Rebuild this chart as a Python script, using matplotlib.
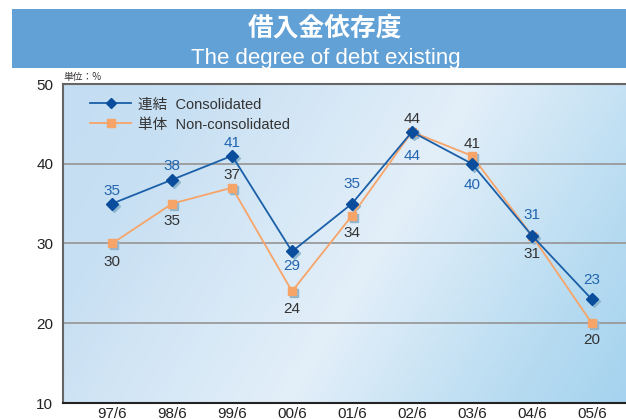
import numpy as np
import matplotlib
matplotlib.use("Agg")
import matplotlib.pyplot as plt
from matplotlib.patches import Rectangle
from matplotlib.colors import LinearSegmentedColormap
from matplotlib.transforms import offset_copy
from matplotlib.lines import Line2D

plt.rcParams['font.family'] = ['Liberation Sans', 'Noto Sans CJK JP', 'DejaVu Sans']

# ---- data ----
categories = ["97/6", "98/6", "99/6", "00/6", "01/6", "02/6", "03/6", "04/6", "05/6"]
consolidated = [35, 38, 41, 29, 35, 44, 40, 31, 23]
non_consolidated = [30, 35, 37, 24, 33.5, 44, 41, 31, 20]
consolidated_labels = ["35", "38", "41", "29", "35", "44", "40", "31", "23"]
non_consolidated_labels = ["30", "35", "37", "24", "34", "44", "41", "31", "20"]
yticks = [10, 20, 30, 40, 50]

# label offsets (pixels) for each point
cons_off = [13, 14, 13, -15, 20, -24, -21, 21, 19]
noncons_off = [-18, -17, 13, -18, -17, 13, 12, -18, -17]

W, H = 626, 419
fig = plt.figure(figsize=(W / 100, H / 100), dpi=100)

# header band
fig.patches.append(Rectangle((12 / W, 1 - 68 / H), 1 - 12 / W, 59 / H,
                             transform=fig.transFigure, facecolor="#62a1d6",
                             edgecolor="none", zorder=0))
fig.text(325 / W, 1 - 28 / H, "借入金依存度", color="white", fontsize=18.5,
         fontweight="bold", ha="center", va="center",
         family=['Noto Sans CJK JP', 'DejaVu Sans'])
fig.text(326 / W, 1 - 64 / H, "The degree of debt existing", color="white",
         fontsize=16, ha="center", va="baseline", family=['Liberation Sans'])

ax_left, ax_bottom = 63 / W, 1 - 403 / H
ax = fig.add_axes([ax_left, ax_bottom, 1 - ax_left, (403 - 84) / H])

x = np.arange(len(categories))
ax.set_xlim(-0.82, 8.57)
ax.set_ylim(10, 50)

# gradient background
gw, gh = 400, 200
px = np.linspace(63, 626, gw)
py = np.linspace(0, 319, gh)  # from bottom upward
PX, PY = np.meshgrid(px, py)
U = PX - 0.6 * PY
cmap = LinearSegmentedColormap.from_list("bg", [
    (0.0, "#c4ddf2"), (0.18, "#c8e0f3"), (0.55, "#e3eff9"), (0.85, "#b6dbf1"), (1.0, "#a6d3ef")])
norm_u = (U + 128) / (626 + 128)
ax.imshow(norm_u, cmap=cmap, vmin=0, vmax=1, extent=(-0.82, 8.57, 10, 50),
          origin="lower", aspect="auto", zorder=0, interpolation="bilinear")

# grid
for yv in [20, 30, 40]:
    ax.axhline(yv, color="#9a9a9a", lw=1.3, zorder=1)

for s in ["left", "top"]:
    ax.spines[s].set_color("#666666")
    ax.spines[s].set_linewidth(1.5)
ax.spines["bottom"].set_color("#222222")
ax.spines["bottom"].set_linewidth(1.5)
ax.spines["right"].set_visible(False)

ax.set_yticks(yticks)
ax.set_yticklabels([str(v) for v in yticks])
ax.set_xticks(x)
ax.set_xticklabels(categories)
ax.tick_params(length=0, labelsize=11, colors="#222222")
ax.tick_params(axis="y", pad=7)
ax.tick_params(axis="x", pad=3)

blue_line = "#1a5fa8"
blue_mark = "#0a4d9c"
orange = "#f7a469"
shadow = "#8fb6cf"

sh = offset_copy(ax.transData, fig=fig, x=2, y=-2, units="dots")
ax.plot(x, non_consolidated, ls="none", marker="s", ms=6, color=shadow,
        transform=sh, zorder=2)
ax.plot(x, consolidated, ls="none", marker="D", ms=6, color=shadow,
        transform=sh, zorder=2)
ax.plot(x, non_consolidated, color=orange, lw=1.3, marker="s", ms=6,
        mec=orange, mfc=orange, zorder=3)
ax.plot(x, consolidated, color=blue_line, lw=1.3, marker="D", ms=6,
        mec=blue_mark, mfc=blue_mark, zorder=4)

for xi, yv, lab, off in zip(x, consolidated, consolidated_labels, cons_off):
    ax.annotate(lab, (xi, yv), xytext=(0, off), textcoords="offset pixels",
                ha="center", va="center", fontsize=11, color="#2265b0", zorder=6)
for xi, yv, lab, off in zip(x, non_consolidated, non_consolidated_labels, noncons_off):
    ax.annotate(lab, (xi, yv), xytext=(0, off), textcoords="offset pixels",
                ha="center", va="center", fontsize=11, color="#333333", zorder=6)

handles = [
    Line2D([], [], color=blue_line, lw=1.3, marker="D", ms=5.5, mfc=blue_mark, mec=blue_mark),
    Line2D([], [], color=orange, lw=1.3, marker="s", ms=5.5, mfc=orange, mec=orange),
]
leg = ax.legend(handles, ["連結  Consolidated", "単体  Non-consolidated"],
                loc="upper left", bbox_to_anchor=(0.03, 0.99), frameon=False,
                fontsize=10.5, handlelength=2.8, handletextpad=0.5,
                labelspacing=0.42, borderaxespad=0.3)
for t in leg.get_texts():
    t.set_color("#333333")

fig.text(63 / W, 1 - 77 / H, "単位：%", fontsize=7, color="#333333",
         ha="left", va="center", family=['Noto Sans CJK JP', 'DejaVu Sans'])

fig.savefig("out.png", dpi=100)
